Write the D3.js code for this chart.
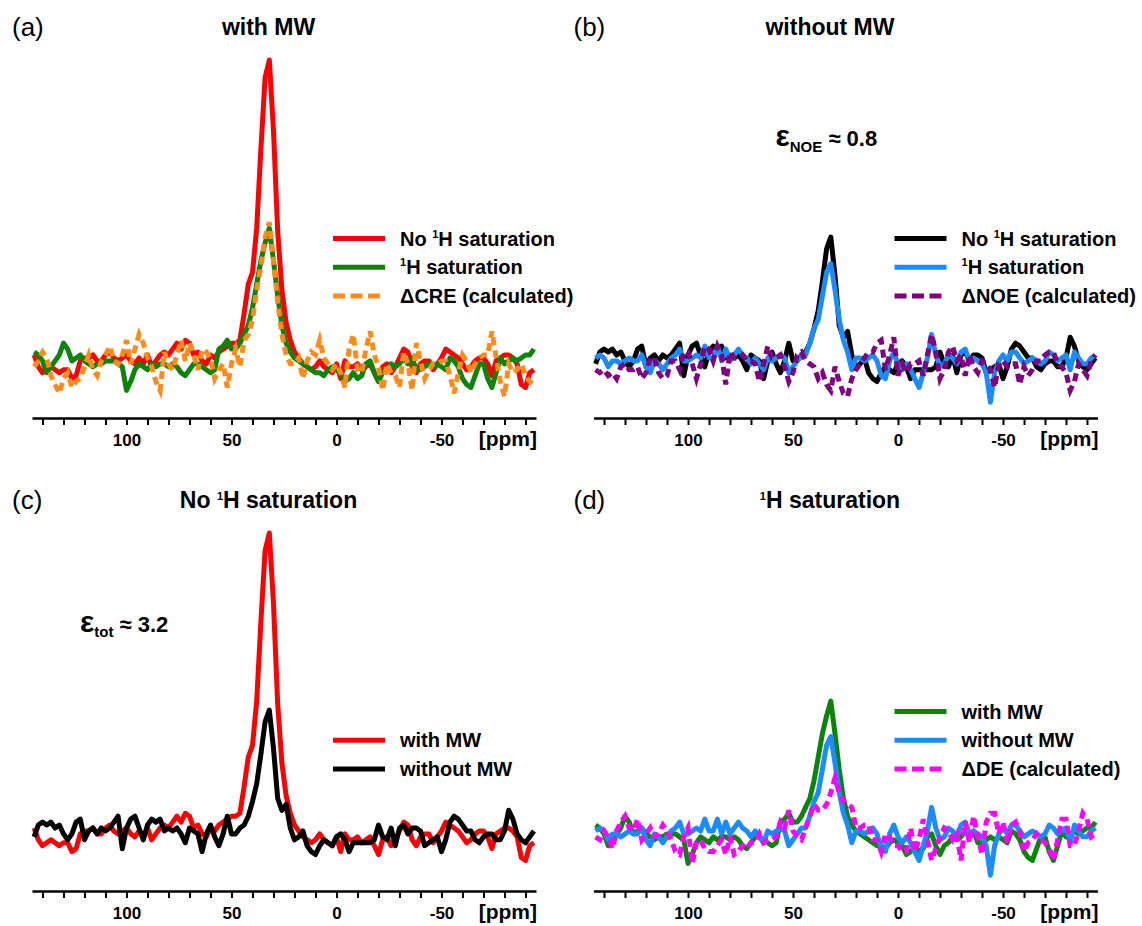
<!DOCTYPE html>
<html>
<head>
<meta charset="utf-8">
<script src="https://cdn.jsdelivr.net/npm/d3@7"></script>
<style>
  html, body { margin: 0; padding: 0; background: #fff; }
  svg { display: block; }
</style>
</head>
<body>
<svg id="fig" width="1142" height="926"></svg>
<script>
// 13C spectra, chemical shift grid in ppm (2 ppm sampling)
const shiftPpm = d3.range(144, -95, -2);

// No 1H saturation, with MW
const noSatWithMW = [
  0, -4, -6, -5, -4, -5, -6, -5, -5, -8,
  -7, -2, -1, -1, 0, -2, -2, 0, 1, -1,
  -2, -1, 0, -2, -3, -1, -3, 0, -4, -2,
  0, 1, 0, 2, 4, 2, 5, 4, 0, 1,
  -2, -3, 0, -1, 1, 2, 3, 4, 4, 5,
  14, 24, 28, 43, 70, 94, 100, 76, 42, 22,
  11, 5, 1, -1, -3, -4, -5, -4, -2, -4,
  -5, -6, -3, -8, -2, -4, -4, -3, -5, -4,
  -3, -6, -9, -4, -3, -6, -4, -1, 2, 1,
  -4, -6, -3, -2, -2, -5, -3, -1, 2, 1,
  0, -1, -3, -5, -4, -2, -1, -1, -3, -7,
  -2, -1, 0, 0, -1, -3, -10, -11, -6, -5
];

// 1H saturation, with MW
const satWithMW = [
  1, 0, -2, -6, -4, -2, 0, 4, 2, -2,
  -1, 0, -2, -3, -4, -3, -3, -2, -2, -2,
  -3, -4, -12, -9, -5, -3, -4, -5, -3, -4,
  -3, -3, -4, -3, -4, -6, -7, -5, -3, -3,
  -4, -5, -6, -5, 2, 3, 5, 2, 2, 4,
  7, 10, 16, 24, 32, 38, 43, 32, 20, 10,
  4, 1, -1, -2, -3, -4, -5, -6, -6, -7,
  -5, -4, -5, -6, -9, -8, -6, -8, -7, -3,
  -2, -6, -9, -6, -5, -3, -4, -3, -1, -3,
  -1, -5, -5, -4, -3, -4, -3, -4, -5, -1,
  -2, -4, -8, -10, -11, -7, -3, -3, -8, -11,
  -6, -1, -3, -2, -1, -2, -1, 0, 0, 2
];

// No 1H saturation, without MW
const noSatNoMW = [
  -3, 1, 2, 1, 2, 0, 1, -2, -4, -2,
  2, 3, -4, -1, 0, -2, 0, -1, 0, 2,
  4, -7, 0, 3, 4, 0, -4, 1, 3, 2,
  3, -1, 0, -1, 0, -2, -5, 0, -1, -2,
  -8, -2, 1, -3, -6, -2, 4, -2, -2, 0,
  1, 4, 9, 15, 25, 36, 40, 27, 10, 6,
  8, 0, -4, -3, -1, -6, -8, -9, -6, -4,
  -5, -6, -3, -2, -4, -8, -5, -5, -5, -5,
  -5, -4, 1, -3, -4, 0, -6, 0, 1, -2,
  0, 0, -1, -6, -5, -4, -3, -8, -4, 2,
  4, 3, 1, -1, -1, -4, -5, -3, -2, -2,
  -4, -4, -1, 6, 3, -2, -4, -5, -3, -1
];

// 1H saturation, without MW
const satNoMW = [
  -1, 0, -1, -4, -2, -2, -3, -2, -1, -2,
  -2, 0, -4, -6, -2, -3, -5, -3, -1, 0,
  2, -2, -2, -1, 0, -1, 3, -1, -1, 3,
  -2, 2, -2, 0, 2, 0, -1, -3, -1, -3,
  -5, -1, -2, -1, 0, -1, -6, -4, -2, 0,
  0, 4, 9, 12, 20, 28, 31, 22, 12, 5,
  1, -5, -1, -1, -2, -1, 0, -2, -7, -8,
  -2, 1, -3, -5, -3, -5, -8, -11, -6, -1,
  7, 0, -4, -3, 0, -1, -3, 1, 2, -2,
  -1, -2, -3, -6, -16, -6, -2, 0, -2, 1,
  1, -1, -3, -2, -1, -2, -3, -2, 1, 0,
  -2, -1, 0, -5, 1, -1, -3, -3, -1, 0
];

// Calculated difference spectra
const deltaCRE = [
  -4, -2, 1, -1, -7, -10, -13, -8, -6, -11,
  -9, -8, -4, 0, -5, -7, -2, 0, 3, -2,
  -3, 0, 5, -3, 2, 7, 4, -1, -4, -9,
  -12, 1, -3, -5, 0, 5, -2, 4, 0, -5,
  2, 1, -1, -8, -5, -3, -11, -3, 2, -4,
  5, 7, 12, 22, 30, 40, 45, 32, 18, 7,
  0, -3, -3, -1, -8, -2, 1, 0, 5, -1,
  -3, -5, -3, -6, -11, 2, 7, -5, -6, 2,
  8, 0, -4, -12, -3, -6, -7, -11, 1, -3,
  -12, 4, -2, -8, -5, -3, -3, -2, -2, -7,
  -13, -6, 0, -2, -6, -3, -1, 0, 0, 8,
  -1, -9, -14, -3, -6, -5, -3, -7, -9, -10
];

const deltaNOE = [
  -5, -6, -5, -7, -6, -8, -4, -3, -5, -5,
  -4, -8, -6, -1, -1, -6, -8, -7, -2, -2,
  -5, 1, 1, -3, -8, -3, 3, 2, -2, 3,
  0, -10, 1, -1, -1, 0, -2, -2, -3, -9,
  -3, 3, -1, -1, 0, -4, -9, -6, 0, 1,
  -2, -3, -4, -8, -6, -10, -12, -4, -9, -13,
  -14, -8, -5, -3, -1, 1, 1, 4, 5, -5,
  0, 6, -7, -3, -6, -3, -3, -2, -7, 0,
  7, 1, -8, -5, 1, 3, -2, 0, -7, 0,
  -4, -6, -2, -3, -5, -11, -3, -2, -4, -3,
  -3, -10, -4, -7, -5, -2, -2, 0, 1, 1,
  -3, -4, -6, -12, -9, -3, -5, -7, -2, 0
];

const deltaDE = [
  -3, -4, -1, -3, -7, -1, 2, 4, 0, -1,
  3, -4, -2, 0, -3, -2, 1, -1, -4, -8,
  -9, -3, 0, -12, -5, -4, -7, -8, -8, -6,
  -4, -9, -3, -9, -8, -6, -7, -5, -5, -2,
  -5, -4, -4, -3, 2, 0, 6, -1, -3, -4,
  0, 4, 8, 6, 6, 8, 12, 17, 12, 9,
  8, 7, 0, 0, 1, 1, -4, -4, -8, -2,
  -3, -6, -6, -8, -8, 0, -8, -4, 3, -4,
  -11, -7, -3, 0, -1, -4, -2, -11, 2, -5,
  4, -3, -9, 2, 5, 5, -2, 2, -5, 1,
  2, -1, -8, -5, -4, -2, -4, -5, -7, -11,
  -4, 3, 3, -6, -6, -1, 5, 3, -3, -2
];

// Axis ticks (ppm) and which of them carry a label
const tickPpm = d3.range(140, -91, -10);
const labelledPpm = [100, 50, 0, -50];

const FONT = '"Liberation Sans", Arial, Helvetica, sans-serif';
const RED = "#ff0000", GREEN = "#0a840a", BLACK = "#000000",
      BLUE = "#1a8cff", ORANGE = "#ff8c1a", PURPLE = "#800080", MAGENTA = "#ff00ff";

const sup1 = { t: "1", size: 11, shift: -8 };

const panels = [
  {
    tag: "(a)", ox: 0, oy: 0, legendRow0: 0,
    title: [{ t: "with MW" }],
    series: [
      { values: noSatWithMW, color: RED, dashed: false, label: [{ t: "No " }, sup1, { t: "H saturation" }] },
      { values: satWithMW, color: GREEN, dashed: false, label: [sup1, { t: "H saturation" }] },
      { values: deltaCRE, color: ORANGE, dashed: true, label: [{ t: "\u0394CRE (calculated)" }] }
    ]
  },
  {
    tag: "(b)", ox: 561.5, oy: 0, legendRow0: 0,
    title: [{ t: "without MW" }],
    note: { x: 775.5, y: 145.5, parts: [{ t: "\u03b5", size: 30 }, { t: "NOE", size: 15, shift: 6 }, { t: " \u2248 0.8", size: 22 }] },
    series: [
      { values: noSatNoMW, color: BLACK, dashed: false, label: [{ t: "No " }, sup1, { t: "H saturation" }] },
      { values: satNoMW, color: BLUE, dashed: false, label: [sup1, { t: "H saturation" }] },
      { values: deltaNOE, color: PURPLE, dashed: true, label: [{ t: "\u0394NOE (calculated)" }] }
    ]
  },
  {
    tag: "(c)", ox: 0, oy: 473, legendRow0: 1,
    title: [{ t: "No " }, sup1, { t: "H saturation" }],
    note: { x: 80, y: 631.5, parts: [{ t: "\u03b5", size: 30 }, { t: "tot", size: 15, shift: 5 }, { t: " \u2248 3.2", size: 22 }] },
    series: [
      { values: noSatWithMW, color: RED, dashed: false, label: [{ t: "with MW" }] },
      { values: noSatNoMW, color: BLACK, dashed: false, label: [{ t: "without MW" }] }
    ]
  },
  {
    tag: "(d)", ox: 561.5, oy: 473, legendRow0: 0,
    title: [sup1, { t: "H saturation" }],
    series: [
      { values: satWithMW, color: GREEN, dashed: false, label: [{ t: "with MW" }] },
      { values: satNoMW, color: BLUE, dashed: false, label: [{ t: "without MW" }] },
      { values: deltaDE, color: MAGENTA, dashed: true, label: [{ t: "\u0394DE (calculated)" }] }
    ]
  }
];

const svg = d3.select("#fig");

// Text made of runs with their own size and vertical shift (super/subscripts)
function richText(sel, parts, baseSize) {
  let prev = 0;
  parts.forEach(p => {
    const shift = p.shift || 0;
    sel.append("tspan")
      .attr("font-size", p.size || baseSize)
      .attr("dy", shift - prev)
      .text(p.t);
    prev = shift;
  });
  return sel;
}

const DASH_LEGEND = "12,5.5";
const DASH_TRACE = "8,5";

panels.forEach(p => {
  const g = svg.append("g");
  const x = d3.scaleLinear().domain([145, -95]).range([32 + p.ox, 536 + p.ox]);
  const y = d3.scaleLinear().domain([0, 100]).range([355 + p.oy, 60 + p.oy]);

  const line = d3.line()
    .x((d, i) => x(shiftPpm[i]))
    .y(d => y(d));

  // spectra
  p.series.forEach(s => {
    g.append("path")
      .datum(s.values)
      .attr("d", line)
      .attr("fill", "none")
      .attr("stroke", s.color)
      .attr("stroke-width", 5)
      .attr("stroke-linejoin", s.dashed ? "miter" : "round")
      .attr("stroke-dasharray", s.dashed ? DASH_TRACE : null);
  });

  // x axis
  const axis = d3.axisBottom(x)
    .tickValues(tickPpm)
    .tickSize(7)
    .tickSizeOuter(0)
    .tickPadding(9)
    .tickFormat(d => labelledPpm.includes(d) ? String(d) : "");
  const ax = g.append("g")
    .attr("transform", `translate(0,${418 + p.oy})`)
    .call(axis)
    .attr("font-family", FONT)
    .attr("font-size", 17)
    .attr("font-weight", "bold");
  ax.select(".domain").attr("stroke", "#000").attr("stroke-width", 2.5);
  ax.selectAll(".tick line").attr("stroke", "#000").attr("stroke-width", 2);
  ax.selectAll(".tick text").attr("fill", "#000");

  g.append("text")
    .attr("x", 537 + p.ox).attr("y", 446 + p.oy)
    .attr("text-anchor", "end")
    .attr("font-family", FONT).attr("font-weight", "bold").attr("font-size", 21)
    .text("[ppm]");

  // panel tag and title
  g.append("text")
    .attr("x", 12 + p.ox).attr("y", 36 + p.oy)
    .attr("font-family", FONT).attr("font-size", 26)
    .text(p.tag);

  richText(g.append("text")
    .attr("x", 268.5 + p.ox).attr("y", 35 + p.oy)
    .attr("text-anchor", "middle")
    .attr("font-family", FONT).attr("font-weight", "bold"), p.title, 23);

  if (p.note) {
    richText(g.append("text")
      .attr("x", p.note.x).attr("y", p.note.y)
      .attr("font-family", FONT).attr("font-weight", "bold"), p.note.parts, 22);
  }

  // legend
  p.series.forEach((s, k) => {
    const ry = 238.5 + p.oy + (p.legendRow0 + k) * 28.8;
    g.append("line")
      .attr("x1", 333 + p.ox).attr("x2", (s.dashed ? 380 : 385) + p.ox)
      .attr("y1", ry).attr("y2", ry)
      .attr("stroke", s.color).attr("stroke-width", 5)
      .attr("stroke-dasharray", s.dashed ? DASH_LEGEND : null);
    richText(g.append("text")
      .attr("x", 400 + p.ox).attr("y", ry + 7)
      .attr("font-family", FONT).attr("font-weight", "bold"), s.label, 20);
  });
});
</script>
</body>
</html>
